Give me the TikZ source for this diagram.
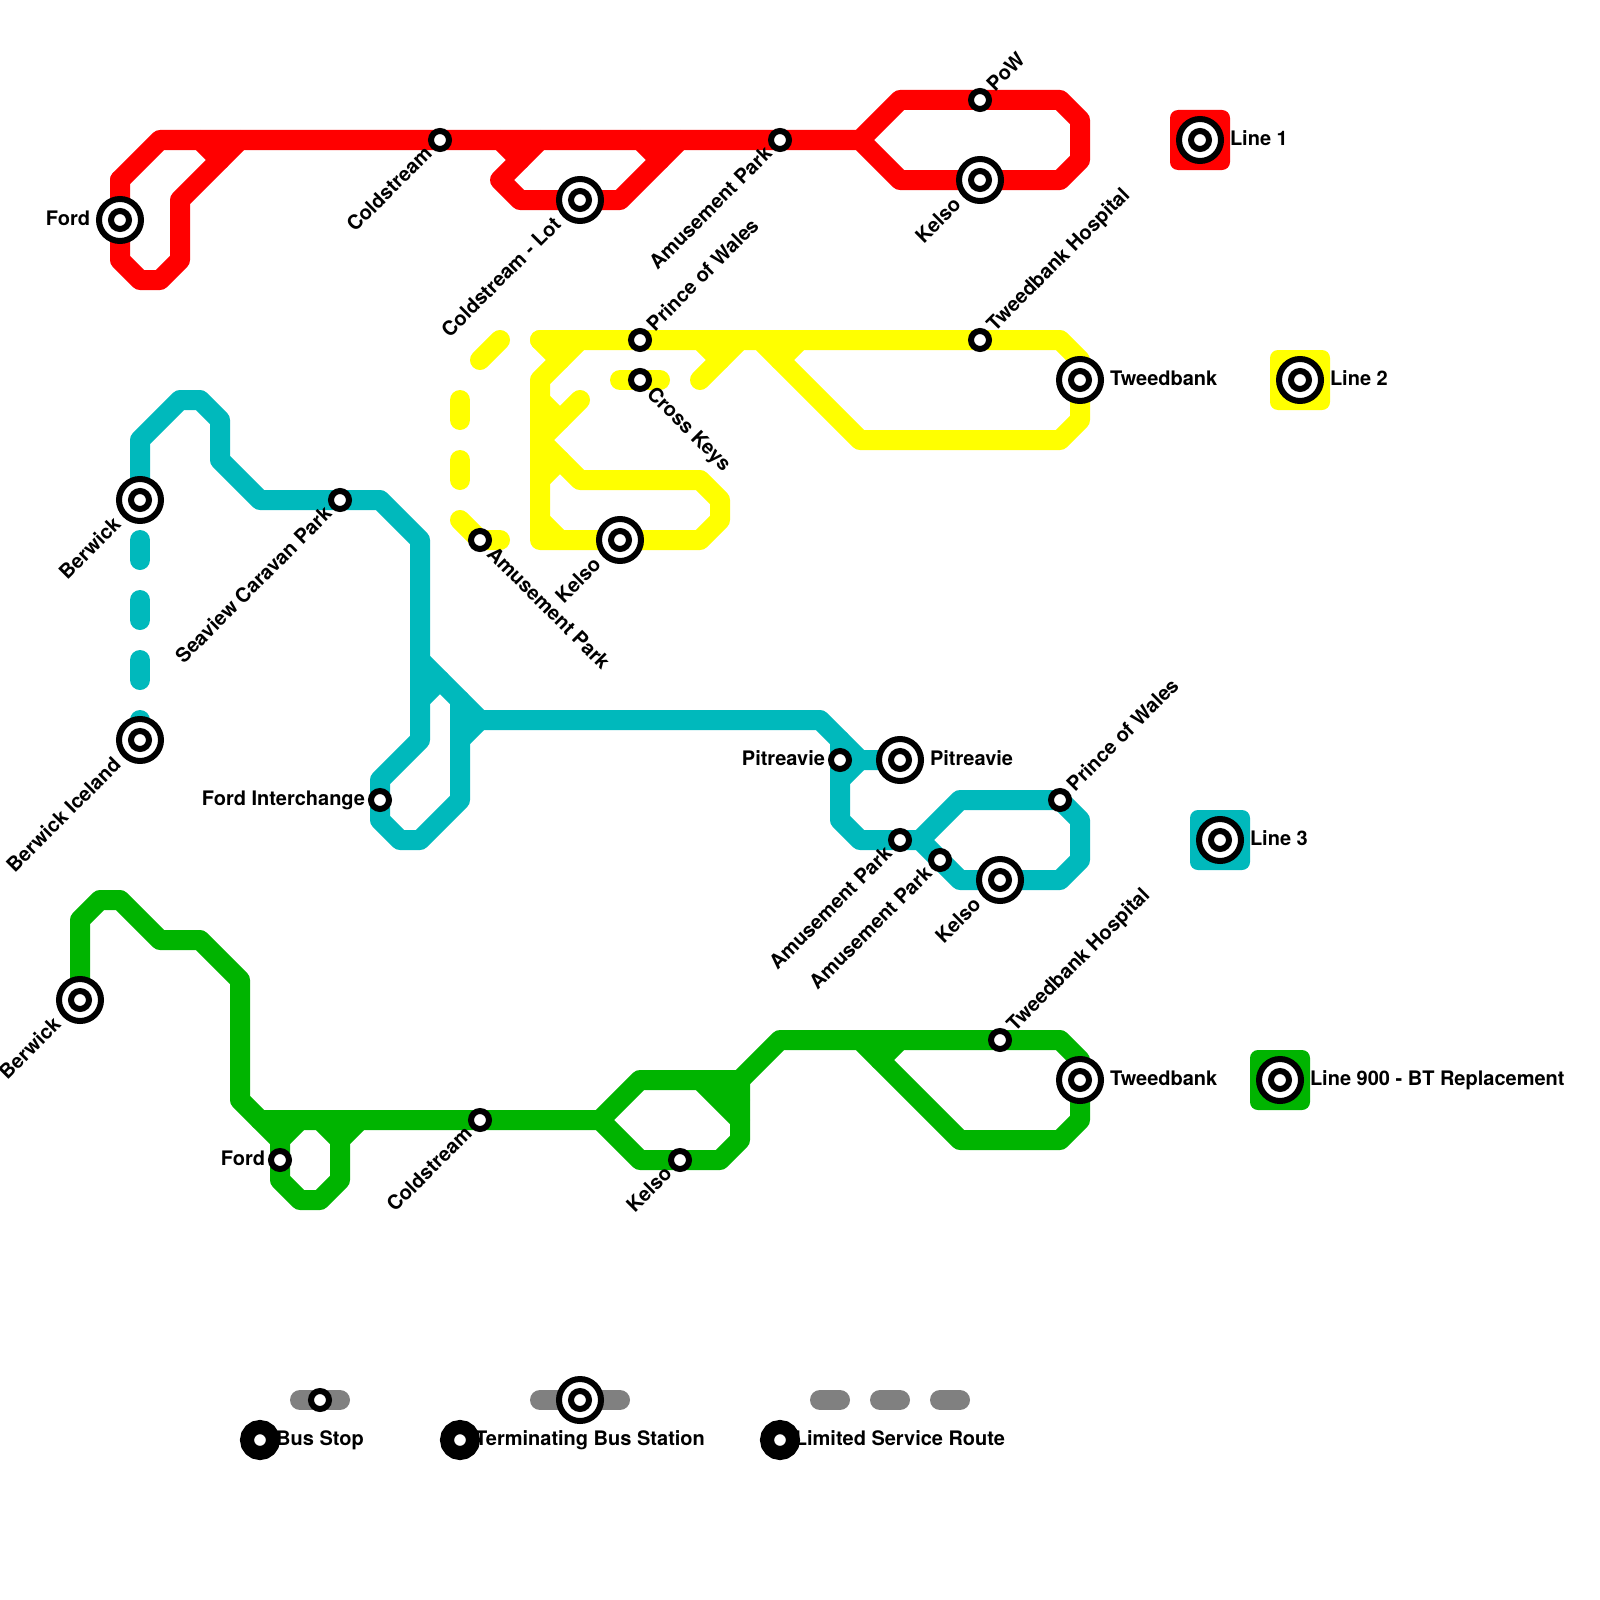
\documentclass[tikz,border=0pt]{standalone}
\usepackage{fontspec}
\setmainfont{TeX Gyre Heros}
\definecolor{lred}{HTML}{FF0000}
\definecolor{lyel}{HTML}{FFFF00}
\definecolor{lteal}{HTML}{00B9BC}
\definecolor{lgreen}{HTML}{00B400}
\definecolor{lgrey}{HTML}{808080}
\tikzset{
  route/.style={line width=10pt,line cap=round,line join=round},
  stopn/.style={circle,draw=black,fill=white,line width=3pt,minimum size=9pt,inner sep=0pt,outer sep=0pt},
  termout/.style={circle,draw=black,fill=white,line width=3pt,minimum size=21pt,inner sep=0pt,outer sep=0pt},
  termin/.style={circle,draw=black,fill=white,line width=3pt,minimum size=9pt,inner sep=0pt,outer sep=0pt},
  legsq/.style={rectangle,rounded corners=4pt,minimum size=30pt,inner sep=0pt,outer sep=0pt},
  legdisc/.style={circle,draw=black,fill=white,line width=7pt,minimum size=13pt,inner sep=0pt,outer sep=0pt},
  lab/.style={font=\bfseries\fontsize{10pt}{12pt}\selectfont,inner sep=0pt,outer sep=0pt,text height=7.2pt,text depth=0pt},
  ll/.style={lab,xshift=-6pt,yshift=-5pt,rotate=45,anchor=east},
  ur/.style={lab,xshift=5pt,yshift=6.5pt,rotate=45,anchor=west},
  lr/.style={lab,xshift=5.5pt,yshift=-5pt,rotate=-45,anchor=west},
  llt/.style={lab,xshift=-11.5pt,yshift=-10.5pt,rotate=45,anchor=east},
  lft/.style={lab,anchor=east,xshift=-7.5pt,yshift=1pt},
  lftt/.style={lab,anchor=east,xshift=-15pt,yshift=1pt},
  rgtt/.style={lab,anchor=west,xshift=15pt,yshift=1pt},
  legl/.style={lab,anchor=west},
}
\newcommand{\stopat}[2]{\node[stopn] (#1) at (#2) {};}
\newcommand{\termat}[2]{\node[termout] (#1) at (#2) {};\node[termin] (#1i) at (#1) {};}
\begin{document}
\begin{tikzpicture}[x=0.5pt,y=-0.5pt]
\useasboundingbox (0,0) rectangle (1600,1600);
% red
\draw[route,lred] (120,180)--(160,140)--(860,140)--(900,100)--(1060,100)--(1080,120)--(1080,160)--(1060,180)--(900,180)--(860,140);
\draw[route,lred] (120,180)--(120,260)--(140,280)--(160,280)--(180,260)--(180,200)--(240,140);
\draw[route,lred] (200,140)--(220,160);
\draw[route,lred] (540,140)--(500,180)--(520,200)--(620,200)--(680,140);
\draw[route,lred] (500,140)--(520,160);
\draw[route,lred] (640,140)--(660,160);
% yellow
\draw[route,lyel] (540,340)--(1060,340)--(1080,360)--(1080,420)--(1060,440)--(860,440)--(760,340);
\draw[route,lyel] (540,340)--(560,360);
\draw[route,lyel] (580,340)--(540,380)--(540,540)--(700,540)--(720,520)--(720,500)--(700,480)--(580,480)--(540,440)--(580,400);
\draw[route,lyel] (540,400)--(560,420);
\draw[route,lyel] (540,480)--(560,460);
\draw[route,lyel] (540,520)--(560,540);
\draw[route,lyel] (700,340)--(720,360);
\draw[route,lyel] (740,340)--(700,380);
\draw[route,lyel] (800,340)--(780,360);
\draw[route,lyel] (620,380)--(660,380);
\draw[route,lyel] (500,340)--(480,360);
\draw[route,lyel] (460,400)--(460,420);
\draw[route,lyel] (460,460)--(460,480);
\draw[route,lyel] (460,520)--(480,540)--(500,540);
% teal
\draw[route,lteal] (140,500)--(140,440)--(180,400)--(200,400)--(220,420)--(220,460)--(260,500)--(380,500)--(420,540)--(420,740)--(380,780)--(380,820)--(400,840)--(420,840)--(460,800)--(460,700);
\draw[route,lteal] (420,660)--(480,720)--(820,720)--(860,760)--(900,760);
\draw[route,lteal] (420,700)--(440,680);
\draw[route,lteal] (460,740)--(480,720);
\draw[route,lteal] (140,540)--(140,560);
\draw[route,lteal] (140,600)--(140,620);
\draw[route,lteal] (140,660)--(140,680);
\draw[route,lteal] (140,720)--(140,740);
\draw[route,lteal] (860,760)--(840,780);
\draw[route,lteal] (840,740)--(840,820)--(860,840)--(920,840)--(960,880)--(1060,880)--(1080,860)--(1080,820)--(1060,800)--(960,800)--(920,840);
% green
\draw[route,lgreen] (80,1000)--(80,920)--(100,900)--(120,900)--(160,940)--(200,940)--(240,980)--(240,1100)--(280,1140)--(280,1180)--(300,1200)--(320,1200)--(340,1180)--(340,1140)--(360,1120);
\draw[route,lgreen] (260,1120)--(600,1120)--(640,1080)--(740,1080)--(780,1040)--(1060,1040)--(1080,1060)--(1080,1120)--(1060,1140)--(960,1140)--(860,1040);
\draw[route,lgreen] (280,1140)--(300,1120);
\draw[route,lgreen] (320,1120)--(340,1140);
\draw[route,lgreen] (600,1120)--(640,1160)--(720,1160)--(740,1140)--(740,1080);
\draw[route,lgreen] (700,1080)--(740,1120);
\draw[route,lgreen] (720,1080)--(740,1100);
\draw[route,lgreen] (880,1060)--(900,1040);
% legend lines
\draw[route,lgrey] (300,1400)--(340,1400);
\draw[route,lgrey] (540,1400)--(620,1400);
\draw[route,lgrey] (820,1400)--(840,1400);
\draw[route,lgrey] (880,1400)--(900,1400);
\draw[route,lgrey] (940,1400)--(960,1400);
% legend squares
\node[legsq,fill=lred] (sq1) at (1200,140) {};
\node[legsq,fill=lyel] (sq2) at (1300,380) {};
\node[legsq,fill=lteal] (sq3) at (1220,840) {};
\node[legsq,fill=lgreen] (sq4) at (1280,1080) {};
\termat{k1}{1200,140}
\termat{k2}{1300,380}
\termat{k3}{1220,840}
\termat{k4}{1280,1080}
\node[legl] (kl1) at (1230,138) {Line 1};
\node[legl] (kl2) at (1330,378) {Line 2};
\node[legl] (kl3) at (1250,838) {Line 3};
\node[legl] (kl4) at (1310,1078) {Line 900 - BT Replacement};
% stations red
\termat{rford}{120,220}
\stopat{rcold}{440,140}
\termat{rlot}{580,200}
\stopat{ramus}{780,140}
\stopat{rpow}{980,100}
\termat{rkelso}{980,180}
\node[lftt] (lrford) at (rford) {Ford};
\node[ll] (lrcold) at (rcold) {Coldstream};
\node[llt] (lrlot) at (rlot) {Coldstream - Lot};
\node[ll] (lramus) at (ramus) {Amusement Park};
\node[ur] (lrpow) at (rpow) {PoW};
\node[llt] (lrkelso) at (rkelso) {Kelso};
% stations yellow
\stopat{ypow}{640,340}
\stopat{ycross}{640,380}
\stopat{yhosp}{980,340}
\termat{ytweed}{1080,380}
\termat{ykelso}{620,540}
\stopat{yamus}{480,540}
\node[ur] (lypow) at (ypow) {Prince of Wales};
\node[lr] (lycross) at (ycross) {Cross Keys};
\node[ur] (lyhosp) at (yhosp) {Tweedbank Hospital};
\node[rgtt] (lytweed) at (ytweed) {Tweedbank};
\node[llt] (lykelso) at (ykelso) {Kelso};
\node[lr] (lyamus) at (yamus) {Amusement Park};
% stations teal
\termat{tber}{140,500}
\termat{tice}{140,740}
\stopat{tsea}{340,500}
\stopat{tford}{380,800}
\stopat{tpit}{840,760}
\termat{tpitt}{900,760}
\stopat{tpow}{1060,800}
\stopat{tamusa}{900,840}
\stopat{tamusb}{940,860}
\termat{tkelso}{1000,880}
\node[llt] (ltber) at (tber) {Berwick};
\node[llt] (ltice) at (tice) {Berwick Iceland};
\node[ll] (ltsea) at (tsea) {Seaview Caravan Park};
\node[lft] (ltford) at (tford) {Ford Interchange};
\node[lft] (ltpit) at (tpit) {Pitreavie};
\node[rgtt] (ltpitt) at (tpitt) {Pitreavie};
\node[ur] (ltpow) at (tpow) {Prince of Wales};
\node[ll] (ltamusa) at (tamusa) {Amusement Park};
\node[ll] (ltamusb) at (tamusb) {Amusement Park};
\node[llt] (ltkelso) at (tkelso) {Kelso};
% stations green
\termat{gber}{80,1000}
\stopat{gford}{280,1160}
\stopat{gcold}{480,1120}
\stopat{gkelso}{680,1160}
\stopat{ghosp}{1000,1040}
\termat{gtweed}{1080,1080}
\node[llt] (lgber) at (gber) {Berwick};
\node[lft] (lgford) at (gford) {Ford};
\node[ll] (lgcold) at (gcold) {Coldstream};
\node[ll] (lgkelso) at (gkelso) {Kelso};
\node[ur] (lghosp) at (ghosp) {Tweedbank Hospital};
\node[rgtt] (lgtweed) at (gtweed) {Tweedbank};
% legend stations
\stopat{lgstop}{320,1400}
\termat{lgterm}{580,1400}
\node[legdisc] (da) at (260,1440) {};
\node[legdisc] (db) at (460,1440) {};
\node[legdisc] (dc) at (780,1440) {};
\node[lab] (ta) at (320,1438) {Bus Stop};
\node[lab] (tb) at (590,1438) {Terminating Bus Station};
\node[lab] (tc) at (900,1438) {Limited Service Route};
\end{tikzpicture}
\end{document}
